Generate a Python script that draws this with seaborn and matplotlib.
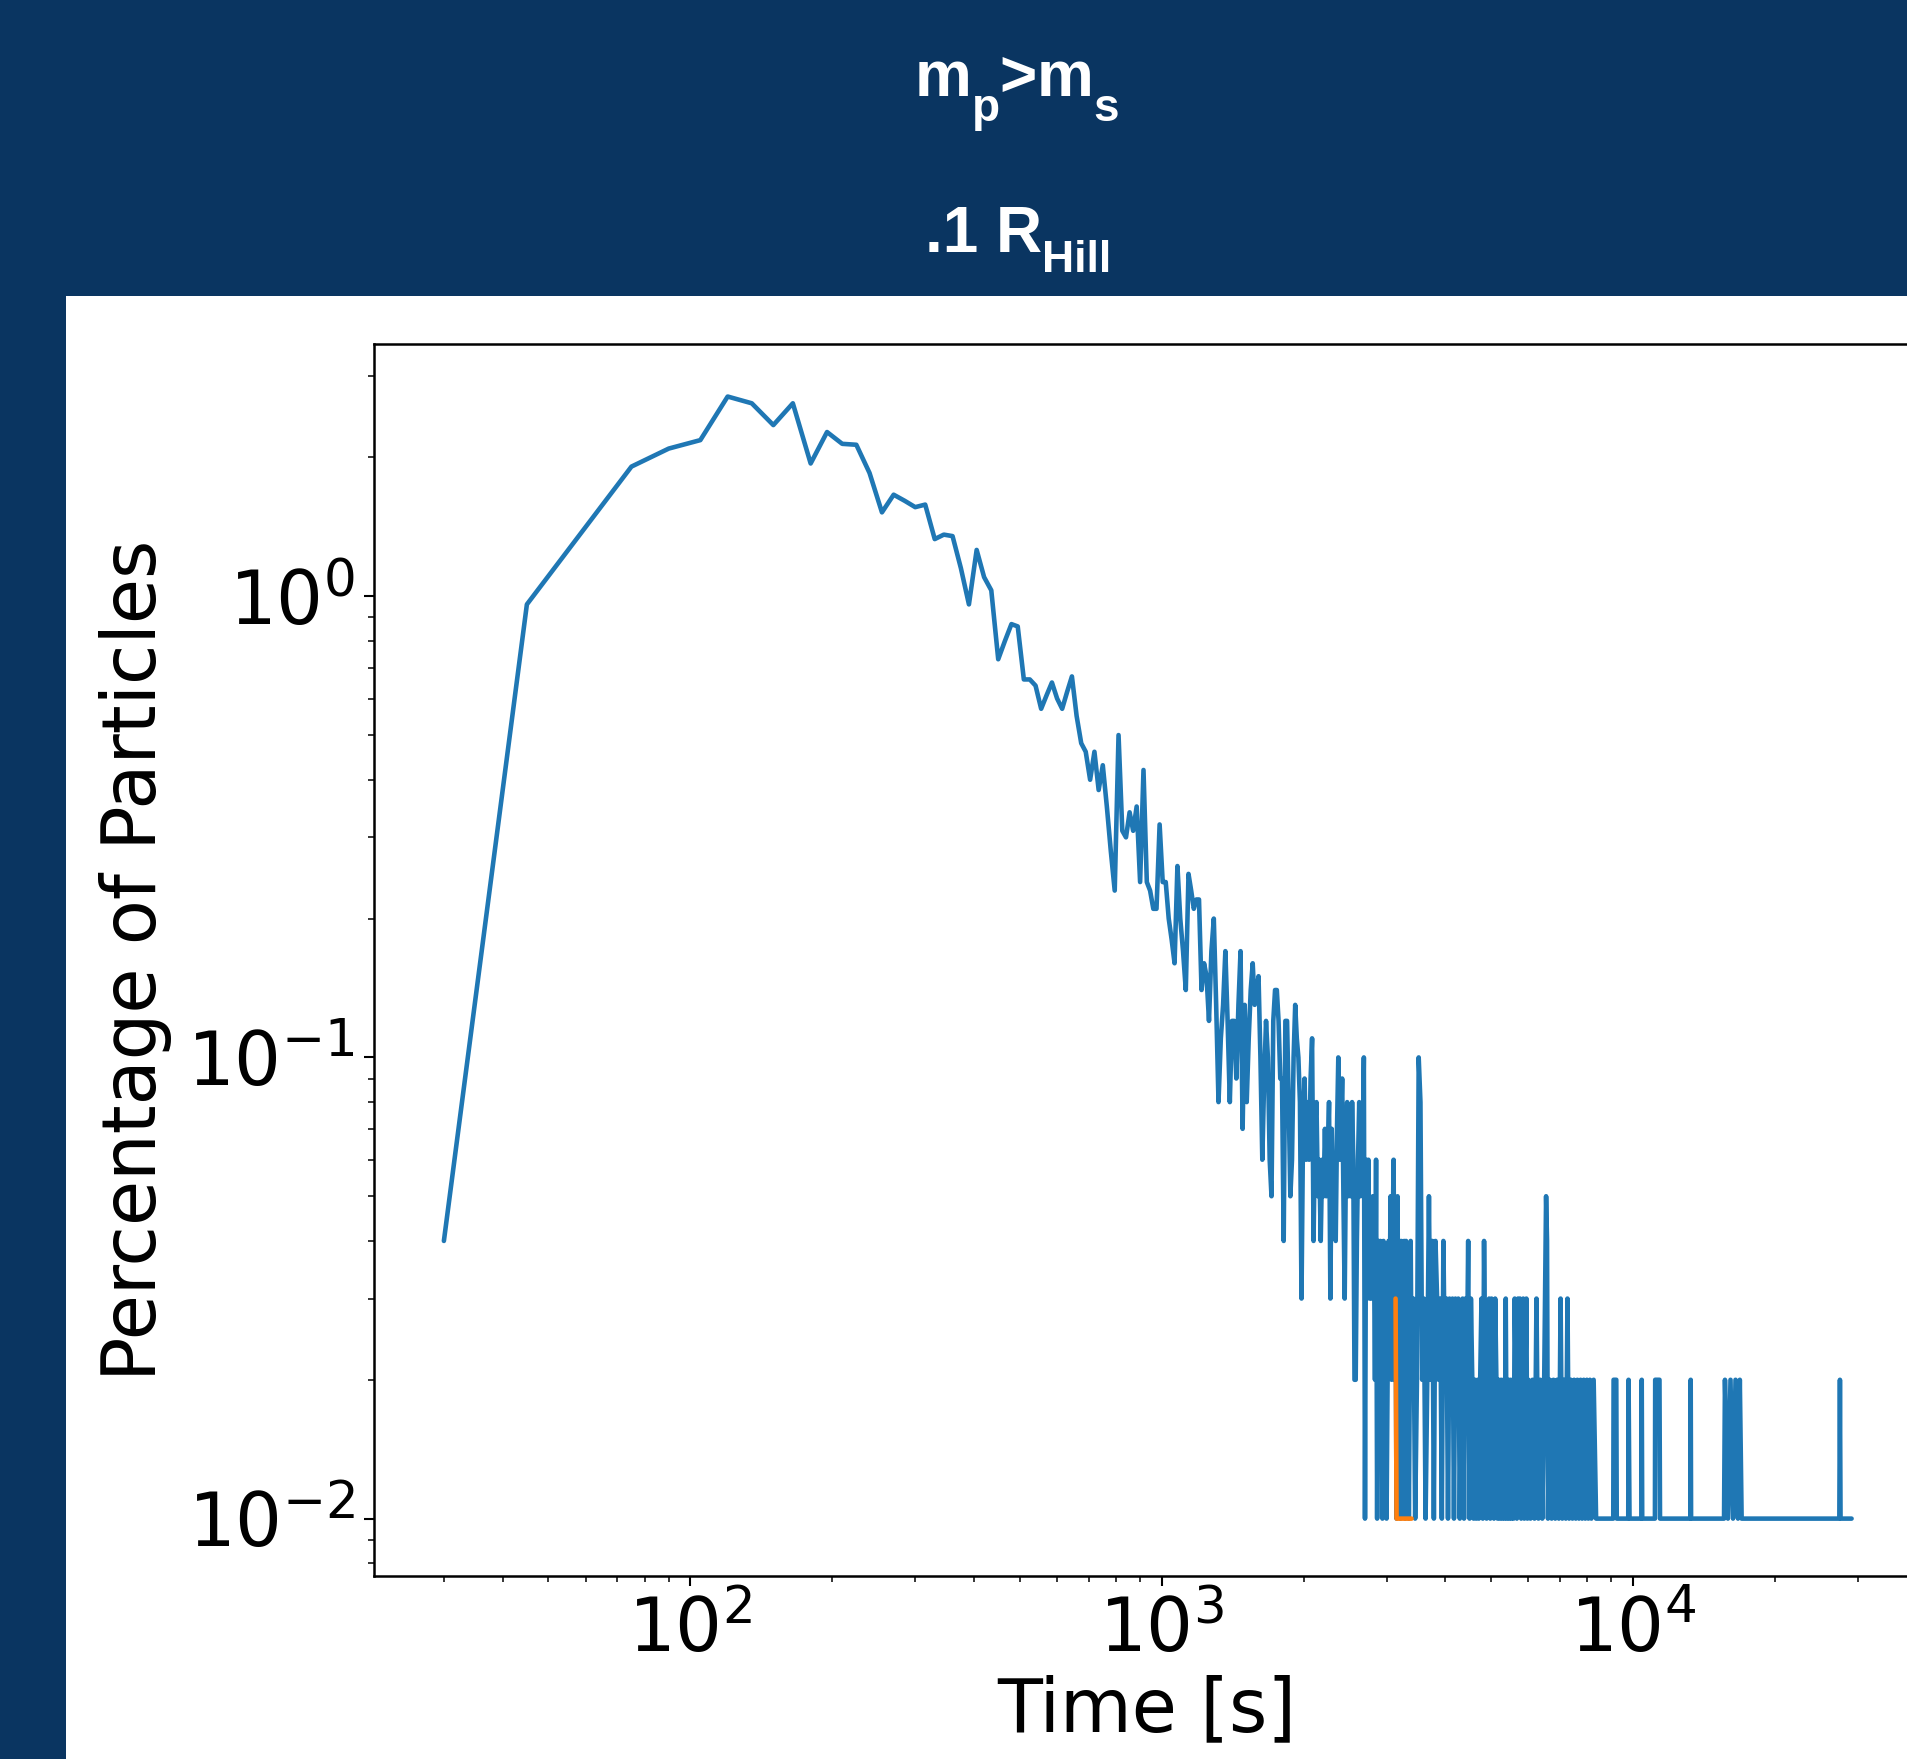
import matplotlib
matplotlib.use("Agg")
import matplotlib.pyplot as plt
import matplotlib.transforms as mtransforms
from matplotlib.patches import Rectangle
import numpy as np
import pandas as pd
import seaborn as sns

# ---------------- data ----------------
rise_time = [30, 45, 75, 90, 105, 120, 135, 150, 165, 180,
             195, 210, 225, 240, 255, 270, 285, 300, 315, 330,
             345, 360, 375, 390, 405, 420, 435, 450, 465, 480,
             495, 510, 525, 540, 555, 570, 585, 600, 615, 630,
             645, 660, 675, 690, 705, 720, 735, 750, 765, 780,
             795, 810, 825, 840, 855, 870, 885, 900, 915, 930,
             945, 960, 975, 990, 1005, 1020]
rise_pct = [0.04, 0.96, 1.91, 2.09, 2.18, 2.71, 2.62, 2.35, 2.62, 1.94,
            2.27, 2.14, 2.13, 1.85, 1.52, 1.66, 1.61, 1.56, 1.58, 1.33,
            1.36, 1.35, 1.15, 0.96, 1.26, 1.10, 1.03, 0.73, 0.80, 0.87,
            0.86, 0.66, 0.66, 0.64, 0.57, 0.61, 0.65, 0.60, 0.57, 0.62,
            0.67, 0.55, 0.48, 0.46, 0.40, 0.46, 0.38, 0.43, 0.35, 0.28,
            0.23, 0.50, 0.31, 0.30, 0.34, 0.31, 0.35, 0.24, 0.42, 0.24,
            0.23, 0.21, 0.21, 0.32, 0.24, 0.24]

mid_time = [1035, 1050, 1065, 1080, 1095, 1110, 1125, 1140, 1155, 1170,
            1185, 1200, 1215, 1230, 1245, 1260, 1275, 1290, 1305, 1320,
            1335, 1350, 1365, 1380, 1395, 1410, 1425, 1440, 1455, 1470,
            1485, 1500, 1515, 1530, 1545, 1560, 1575, 1590, 1605, 1620,
            1635, 1650, 1665, 1680, 1695, 1710, 1725, 1740, 1755, 1770,
            1785, 1800, 1815, 1830, 1845, 1860, 1875, 1890, 1905, 1920,
            1935, 1950, 1965, 1980, 1995, 2010, 2025, 2040, 2055, 2070,
            2085, 2100, 2115, 2130, 2145, 2160, 2175, 2190, 2205, 2220,
            2235, 2250, 2265, 2280, 2295, 2310, 2325, 2340, 2355, 2370,
            2385, 2400, 2415, 2430, 2445, 2460, 2475, 2490, 2505, 2520,
            2535, 2550, 2565]
mid_pct = [0.20, 0.18, 0.16, 0.26, 0.20, 0.17, 0.14, 0.25, 0.23, 0.21,
           0.22, 0.22, 0.14, 0.16, 0.15, 0.12, 0.17, 0.20, 0.13, 0.08,
           0.11, 0.13, 0.17, 0.12, 0.08, 0.12, 0.12, 0.09, 0.13, 0.17,
           0.07, 0.13, 0.08, 0.11, 0.14, 0.16, 0.13, 0.14, 0.15, 0.10,
           0.06, 0.09, 0.12, 0.10, 0.06, 0.05, 0.12, 0.14, 0.14, 0.12,
           0.09, 0.09, 0.04, 0.12, 0.12, 0.08, 0.05, 0.06, 0.10, 0.13,
           0.11, 0.10, 0.08, 0.03, 0.07, 0.09, 0.06, 0.08, 0.06, 0.09,
           0.11, 0.04, 0.07, 0.08, 0.05, 0.06, 0.04, 0.06, 0.05, 0.07,
           0.05, 0.06, 0.08, 0.03, 0.07, 0.05, 0.06, 0.04, 0.07, 0.10,
           0.06, 0.07, 0.09, 0.05, 0.03, 0.06, 0.08, 0.05, 0.07, 0.05,
           0.08, 0.06, 0.02]

late_time = [2580, 2595, 2610, 2625, 2640, 2655, 2670, 2685, 2700, 2715,
             2730, 2745, 2760, 2775, 2790, 2805, 2820, 2835, 2850, 2865,
             2880, 2895, 2910, 2925, 2940, 2955, 2970, 2985, 3000, 3015,
             3030, 3045, 3060, 3075, 3090, 3105, 3120, 3135, 3150, 3165,
             3180, 3195, 3210, 3225, 3240, 3255, 3270, 3285, 3300, 3315,
             3330, 3345, 3360, 3375, 3390]
late_pct = [0.02, 0.04, 0.06, 0.08, 0.05, 0.07, 0.06, 0.10, 0.01, 0.06,
            0.04, 0.06, 0.03, 0.04, 0.03, 0.05, 0.04, 0.02, 0.06, 0.01,
            0.04, 0.02, 0.04, 0.03, 0.01, 0.04, 0.02, 0.03, 0.01, 0.02,
            0.04, 0.03, 0.05, 0.02, 0.04, 0.06, 0.02, 0.03, 0.01, 0.05,
            0.02, 0.04, 0.01, 0.04, 0.02, 0.03, 0.04, 0.01, 0.04, 0.02,
            0.03, 0.01, 0.02, 0.04, 0.02]

tail_time = [3420, 3450, 3480, 3510, 3540, 3570, 3600, 3630, 3660, 3690,
             3720, 3750, 3780, 3810, 3840, 3870, 3900, 3930, 3960, 3990,
             4020, 4050, 4080, 4110, 4140, 4170, 4200, 4230, 4260, 4290,
             4320, 4350, 4380, 4410, 4440, 4470, 4500, 4530, 4560, 4590,
             4620, 4650, 4680, 4710, 4740, 4770, 4800, 4830, 4860, 4890,
             4920, 4950, 4980, 5010, 5040, 5070, 5100, 5130, 5160, 5190,
             5220, 5250, 5280, 5310, 5340, 5370, 5400, 5430, 5460, 5490,
             5520, 5550, 5580, 5610, 5640, 5670, 5700, 5730, 5760, 5790,
             5820, 5850, 5880, 5910, 5940, 5970, 6000]
tail_pct = [0.03, 0.01, 0.02, 0.10, 0.08, 0.02, 0.03, 0.01, 0.02, 0.05,
            0.02, 0.04, 0.01, 0.04, 0.03, 0.02, 0.03, 0.01, 0.04, 0.02,
            0.03, 0.01, 0.03, 0.02, 0.03, 0.01, 0.03, 0.02, 0.03, 0.01,
            0.02, 0.03, 0.01, 0.03, 0.02, 0.04, 0.01, 0.03, 0.02, 0.01,
            0.02, 0.01, 0.02, 0.01, 0.02, 0.03, 0.01, 0.04, 0.02, 0.01,
            0.02, 0.03, 0.01, 0.03, 0.02, 0.01, 0.03, 0.02, 0.01, 0.02,
            0.01, 0.02, 0.01, 0.02, 0.01, 0.03, 0.01, 0.02, 0.01, 0.02,
            0.01, 0.02, 0.01, 0.03, 0.02, 0.01, 0.03, 0.02, 0.03, 0.01,
            0.02, 0.03, 0.01, 0.02, 0.03, 0.01, 0.02]

far_time = [6060, 6120, 6180, 6240, 6300, 6360, 6420, 6480, 6540, 6570,
            6600, 6660, 6720, 6780, 6840, 6900, 6960, 7020, 7080, 7140,
            7200, 7260, 7320, 7380, 7440, 7500, 7560, 7620, 7680, 7740,
            7800, 7860, 7920, 7980, 8040, 8100, 8160, 8250, 8350]
far_pct = [0.01, 0.02, 0.01, 0.03, 0.01, 0.02, 0.01, 0.02, 0.05, 0.04,
           0.01, 0.02, 0.01, 0.02, 0.01, 0.02, 0.01, 0.03, 0.01, 0.02,
           0.01, 0.03, 0.01, 0.02, 0.01, 0.02, 0.01, 0.02, 0.01, 0.02,
           0.01, 0.02, 0.01, 0.02, 0.01, 0.02, 0.01, 0.02, 0.01]

sparse_time = [9080, 9095, 9215, 9236, 9770, 9785, 9830, 10420, 10435, 10460,
               11130, 11145, 11380, 11410, 13240, 13255, 13280, 15600, 15670, 15900,
               16100, 16300, 16500, 16700, 16850, 17000, 27400, 27480, 27560, 29090]
sparse_pct = [0.01, 0.02, 0.02, 0.01, 0.01, 0.02, 0.01, 0.01, 0.02, 0.01,
              0.01, 0.02, 0.02, 0.01, 0.01, 0.02, 0.01, 0.01, 0.02, 0.01,
              0.02, 0.01, 0.02, 0.01, 0.02, 0.01, 0.01, 0.02, 0.01, 0.01]

orange_time = [3135, 3150, 3390]
orange_pct = [0.03, 0.01, 0.01]

title_line1 = [("m", "main"), ("p", "sub"), (">", "main"), ("m", "main"), ("s", "sub")]
title_line2 = [(".1 R", "main"), ("Hill", "sub")]
x_label = "Time [s]"
y_label = "Percentage of Particles"

# ---------------- figure ----------------
sns.set_theme(style="ticks")
plt.rcParams["font.family"] = ["DejaVu Sans"]
plt.rcParams["mathtext.fontset"] = "dejavusans"

W, H = 1908, 1759
BG = "#0a3561"
fig = plt.figure(figsize=(W / 100, H / 100), dpi=100, facecolor=BG)

# white panel
fig.patches.append(Rectangle((66 / W, 0), 1 - 66 / W, 1 - 296 / H,
                             transform=fig.transFigure, facecolor="white",
                             edgecolor="none", zorder=-1))

ax_l, ax_r, ax_t, ax_b = 373.6, 1921.0, 344.4, 1575.8
ax = fig.add_axes([ax_l / W, 1 - ax_b / H, (ax_r - ax_l) / W, (ax_b - ax_t) / H])
ax.set_facecolor("white")

main_df = pd.DataFrame({
    "time": rise_time + mid_time + late_time + tail_time + far_time + sparse_time,
    "pct": rise_pct + mid_pct + late_pct + tail_pct + far_pct + sparse_pct,
})
orange_df = pd.DataFrame({"time": orange_time, "pct": orange_pct})

sns.lineplot(data=main_df, x="time", y="pct", ax=ax, color="#1f77b4",
             linewidth=3.3, estimator=None, sort=False)
sns.lineplot(data=orange_df, x="time", y="pct", ax=ax, color="#ff7f0e",
             linewidth=3.3, estimator=None, sort=False)

ax.set_xscale("log")
ax.set_yscale("log")
ax.set_xlim(10 ** 1.328, 10 ** 4.611)
ax.set_ylim(10 ** -2.124, 10 ** 0.546)
ax.grid(False)

for sp in ax.spines.values():
    sp.set_color("black")
    sp.set_linewidth(1.8)

ax.tick_params(which="major", length=7.5, width=1.5, labelsize=53,
               color="black", labelcolor="black", pad=6, direction="out")
ax.tick_params(which="minor", length=4.5, width=1.1, color="black", direction="out")

ax.set_xlabel(x_label, fontsize=53, color="black")
ax.set_ylabel(y_label, fontsize=53, color="black")
ax.xaxis.set_label_coords(0.5, -0.080)
ax.yaxis.set_label_coords(-0.130, 0.5)

# ---------------- titles ----------------
renderer = fig.canvas.get_renderer()
px = mtransforms.IdentityTransform()


def draw_line(pieces, sizes, baselines, cx):
    arts = []
    for txt, kind in pieces:
        t = fig.text(0, 0, txt, transform=px, fontsize=sizes[kind],
                     family=["Liberation Sans", "DejaVu Sans"], weight="bold",
                     color="white", ha="left", va="baseline")
        arts.append((t, kind))
    widths = [a.get_window_extent(renderer).width for a, _ in arts]
    x = cx - sum(widths) / 2
    for (a, kind), w in zip(arts, widths):
        a.set_position((x, H - baselines[kind]))
        x += w


draw_line(title_line1, {"main": 46, "sub": 33}, {"main": 96, "sub": 121}, 1017)
draw_line(title_line2, {"main": 46, "sub": 32}, {"main": 252, "sub": 272}, 1018)

fig.savefig("out.png", dpi=100, facecolor=BG)
